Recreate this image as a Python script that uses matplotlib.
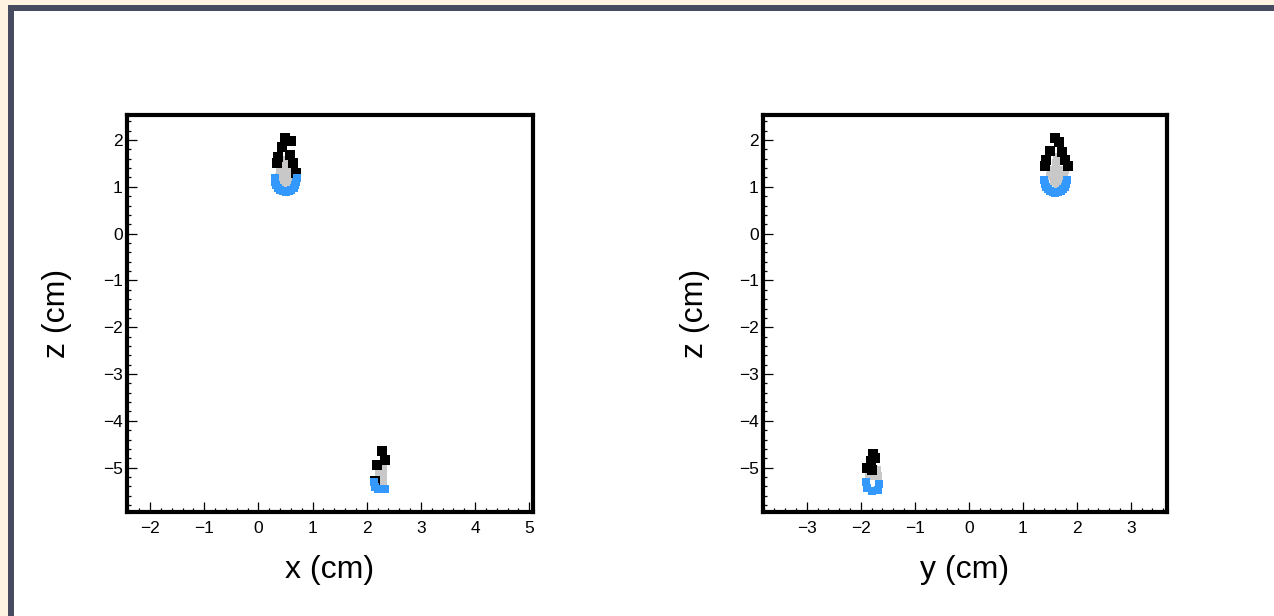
import matplotlib
matplotlib.use("Agg")
import matplotlib.pyplot as plt
from matplotlib.patches import Rectangle
from matplotlib.ticker import MultipleLocator

plt.rcParams['font.family'] = ['Liberation Sans', 'DejaVu Sans']

# ---------------- data (cm) ----------------
# Left panel: x vs z
xz_black_x = [0.495, 0.606, 0.44, 0.366, 0.35, 0.588, 0.643, 0.70,
              2.288, 2.344, 2.196, 2.16]
xz_black_z = [2.04, 1.98, 1.85, 1.64, 1.51, 1.68, 1.51, 1.30,
              -4.645, -4.836, -4.94, -5.29]
xz_grey_x = [0.495, 0.477, 0.551, 0.403, 0.514, 0.625, 0.384, 0.495, 0.606, 0.44, 0.551, 0.495,
             2.307, 2.307, 2.307, 2.307, 2.233]
xz_grey_z = [1.577, 1.43, 1.43, 1.32, 1.32, 1.32, 1.20, 1.20, 1.20, 1.09, 1.09, 1.01,
             -4.964, -5.09, -5.22, -5.35, -5.09]
xz_blue_x = [0.30, 0.307, 0.327, 0.36, 0.40, 0.452, 0.505, 0.558, 0.61, 0.65, 0.683, 0.703, 0.71,
             2.14, 2.159, 2.215, 2.288, 2.344]
xz_blue_z = [1.19, 1.112, 1.04, 0.978, 0.93, 0.90, 0.89, 0.90, 0.93, 0.978, 1.04, 1.112, 1.19,
             -5.304, -5.41, -5.453, -5.453, -5.453]

# Right panel: y vs z
yz_black_y = [1.598, 1.672, 1.506, 1.43, 1.412, 1.728, 1.783, 1.839,
              -1.772, -1.81, -1.735, -1.883, -1.79]
yz_black_z = [2.05, 1.96, 1.77, 1.58, 1.45, 1.74, 1.58, 1.45,
              -4.709, -4.858, -4.80, -5.006, -5.049]
yz_grey_y = [1.635, 1.617, 1.524, 1.654, 1.783, 1.506, 1.635, 1.765, 1.58, 1.69, 1.635,
             -1.772, -1.68, -1.85, -1.70]
yz_grey_z = [1.64, 1.51, 1.366, 1.366, 1.366, 1.24, 1.24, 1.24, 1.11, 1.11, 1.006,
             -5.177, -5.177, -5.177, -5.049]
yz_blue_y = [1.40, 1.407, 1.427, 1.46, 1.502, 1.552, 1.605, 1.658, 1.707, 1.75, 1.783, 1.803, 1.81,
             -1.902, -1.883, -1.79, -1.68, -1.661]
yz_blue_z = [1.14, 1.07, 1.005, 0.949, 0.906, 0.879, 0.87, 0.879, 0.906, 0.949, 1.005, 1.07, 1.14,
             -5.304, -5.432, -5.496, -5.474, -5.347]

x_label = "x (cm)"
y_label = "y (cm)"
z_label = "z (cm)"

BLUE = '#3399ff'
GREY = '#c8c8c8'

W, H = 1274, 616
fig = plt.figure(figsize=(W / 100, H / 100), dpi=100, facecolor='#fdf3e0')
fig.patches.append(Rectangle((8 / W, 0), 1, 1 - 5 / H, transform=fig.transFigure,
                             facecolor='#474b5f', edgecolor='none', zorder=-10))
fig.patches.append(Rectangle((14 / W, 0), 1, 1 - 11 / H, transform=fig.transFigure,
                             facecolor='white', edgecolor='none', zorder=-9))


def make_axes(left_px, right_px, ylab_px, xlim, xlabel, hx, hz, gx, gz, bx, bz):
    top_px, bot_px = 115, 512
    ax = fig.add_axes([left_px / W, (H - bot_px) / H, (right_px - left_px) / W,
                       (bot_px - top_px) / H])
    ax.scatter(gx, gz, marker='s', s=26, c=GREY, linewidths=0, zorder=2)
    ax.scatter(hx, hz, marker='s', s=44, c='black', linewidths=0, zorder=3)
    ax.scatter(bx, bz, marker='s', s=28, c=BLUE, linewidths=0, zorder=4)
    ax.set_xlim(*xlim)
    ax.set_ylim(-5.947, 2.534)
    ax.xaxis.set_major_locator(MultipleLocator(1))
    ax.xaxis.set_minor_locator(MultipleLocator(0.2))
    ax.yaxis.set_major_locator(MultipleLocator(1))
    ax.yaxis.set_minor_locator(MultipleLocator(0.2))
    ax.tick_params(which='both', direction='in', top=False, right=False,
                   width=0.9, colors='black')
    ax.tick_params(which='major', length=7, labelsize=12.5)
    ax.tick_params(which='minor', length=3)
    ax.tick_params(axis='x', which='major', pad=6.5)
    ax.tick_params(axis='y', which='major', pad=3)
    for sp in ax.spines.values():
        sp.set_linewidth(3)
    ax.set_xlabel(xlabel, fontsize=23)
    ax.set_ylabel(z_label, fontsize=23)
    ax.xaxis.set_label_coords(0.5, -(570 - bot_px) / (bot_px - top_px), transform=ax.transAxes)
    ax.yaxis.set_label_coords(-(left_px - ylab_px) / (right_px - left_px), 0.5,
                              transform=ax.transAxes)
    ax.xaxis.label.set_va('center')
    ax.yaxis.label.set_va('center')
    return ax


make_axes(127, 533, 57, (-2.425, 5.07), x_label,
          xz_black_x, xz_black_z, xz_grey_x, xz_grey_z, xz_blue_x, xz_blue_z)
make_axes(763, 1167, 695, (-3.81, 3.67), y_label,
          yz_black_y, yz_black_z, yz_grey_y, yz_grey_z, yz_blue_y, yz_blue_z)

fig.savefig("out.png", dpi=100, facecolor=fig.get_facecolor())
